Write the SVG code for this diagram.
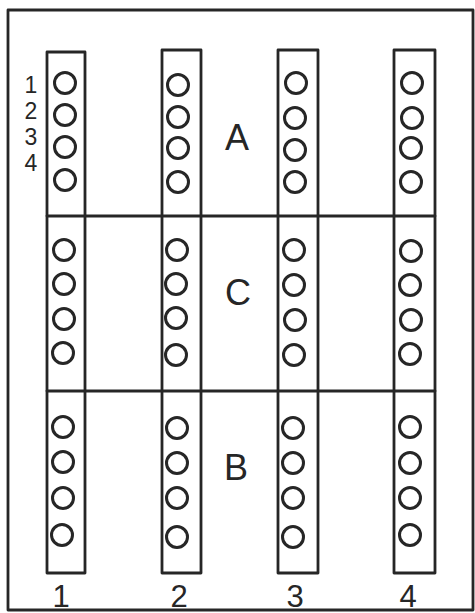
<svg xmlns="http://www.w3.org/2000/svg" width="475" height="613" viewBox="0 0 475 613">
<style>
.ln{fill:none;stroke:#262626;stroke-width:2.8;stroke-linecap:round;stroke-linejoin:round}
.h{fill:none;stroke:#262626;stroke-width:3}
.t{font-family:"Liberation Sans",Arial,sans-serif;fill:#262626;text-anchor:middle}
.sec{font-size:36px}
.num{font-size:31px}
.row{font-size:23px}
</style>
<rect x="0" y="0" width="475" height="613" fill="#ffffff"/>
<g id="frame">
<path class="ln" d="M8,10 L473,10 L473,610 L8,610 Z"/>
</g>
<g id="strip-1">
<path class="ln" d="M47,52 L85,52 L85,573 L47,573 Z"/>
<circle class="h" cx="65" cy="83" r="10.5"/><circle class="h" cx="65" cy="115" r="10.5"/><circle class="h" cx="65" cy="147" r="10.5"/><circle class="h" cx="65" cy="180" r="10.5"/>
<circle class="h" cx="64" cy="250" r="10.5"/><circle class="h" cx="64" cy="284" r="10.5"/><circle class="h" cx="64" cy="319" r="10.5"/><circle class="h" cx="63" cy="353" r="10.5"/>
<circle class="h" cx="63" cy="427" r="10.5"/><circle class="h" cx="63" cy="462" r="10.5"/><circle class="h" cx="63" cy="498" r="10.5"/><circle class="h" cx="62" cy="535" r="10.5"/>
</g>
<g id="strip-2">
<path class="ln" d="M162,50 L201,50 L201,573 L162,573 Z"/>
<circle class="h" cx="178" cy="85" r="10.5"/><circle class="h" cx="178" cy="117" r="10.5"/><circle class="h" cx="178" cy="148" r="10.5"/><circle class="h" cx="178" cy="182" r="10.5"/>
<circle class="h" cx="177" cy="250" r="10.5"/><circle class="h" cx="176" cy="284" r="10.5"/><circle class="h" cx="176" cy="318" r="10.5"/><circle class="h" cx="176" cy="355" r="10.5"/>
<circle class="h" cx="177" cy="428" r="10.5"/><circle class="h" cx="177" cy="463" r="10.5"/><circle class="h" cx="177" cy="498" r="10.5"/><circle class="h" cx="177" cy="537" r="10.5"/>
</g>
<g id="strip-3">
<path class="ln" d="M278,50 L318,50 L318,573 L278,573 Z"/>
<circle class="h" cx="296" cy="83" r="10.5"/><circle class="h" cx="295" cy="118" r="10.5"/><circle class="h" cx="295" cy="150" r="10.5"/><circle class="h" cx="295" cy="182" r="10.5"/>
<circle class="h" cx="294" cy="250" r="10.5"/><circle class="h" cx="294" cy="285" r="10.5"/><circle class="h" cx="295" cy="320" r="10.5"/><circle class="h" cx="294" cy="355" r="10.5"/>
<circle class="h" cx="293" cy="428" r="10.5"/><circle class="h" cx="293" cy="463" r="10.5"/><circle class="h" cx="293" cy="498" r="10.5"/><circle class="h" cx="293" cy="537" r="10.5"/>
</g>
<g id="strip-4">
<path class="ln" d="M394,50 L435,50 L435,573 L394,573 Z"/>
<circle class="h" cx="412" cy="83" r="10.5"/><circle class="h" cx="412" cy="118" r="10.5"/><circle class="h" cx="411" cy="148" r="10.5"/><circle class="h" cx="411" cy="182" r="10.5"/>
<circle class="h" cx="411" cy="251" r="10.5"/><circle class="h" cx="410" cy="285" r="10.5"/><circle class="h" cx="411" cy="320" r="10.5"/><circle class="h" cx="410" cy="354" r="10.5"/>
<circle class="h" cx="410" cy="427" r="10.5"/><circle class="h" cx="410" cy="463" r="10.5"/><circle class="h" cx="410" cy="498" r="10.5"/><circle class="h" cx="410" cy="535" r="10.5"/>
</g>
<g id="dividers">
<path class="ln" d="M47,216 L435,216"/>
<path class="ln" d="M47,391 L435,391"/>
</g>
<g id="section-labels">
<text class="t sec" x="237" y="150">A</text>
<text class="t sec" x="238" y="305">C</text>
<text class="t sec" x="236" y="480">B</text>
</g>
<g id="row-labels">
<text class="t row" x="31" y="93">1</text>
<text class="t row" x="31" y="119">2</text>
<text class="t row" x="31" y="145">3</text>
<text class="t row" x="31" y="171">4</text>
</g>
<g id="column-labels">
<text class="t num" x="61" y="607">1</text>
<text class="t num" x="179" y="607">2</text>
<text class="t num" x="295" y="607">3</text>
<text class="t num" x="408" y="607">4</text>
</g>
</svg>
